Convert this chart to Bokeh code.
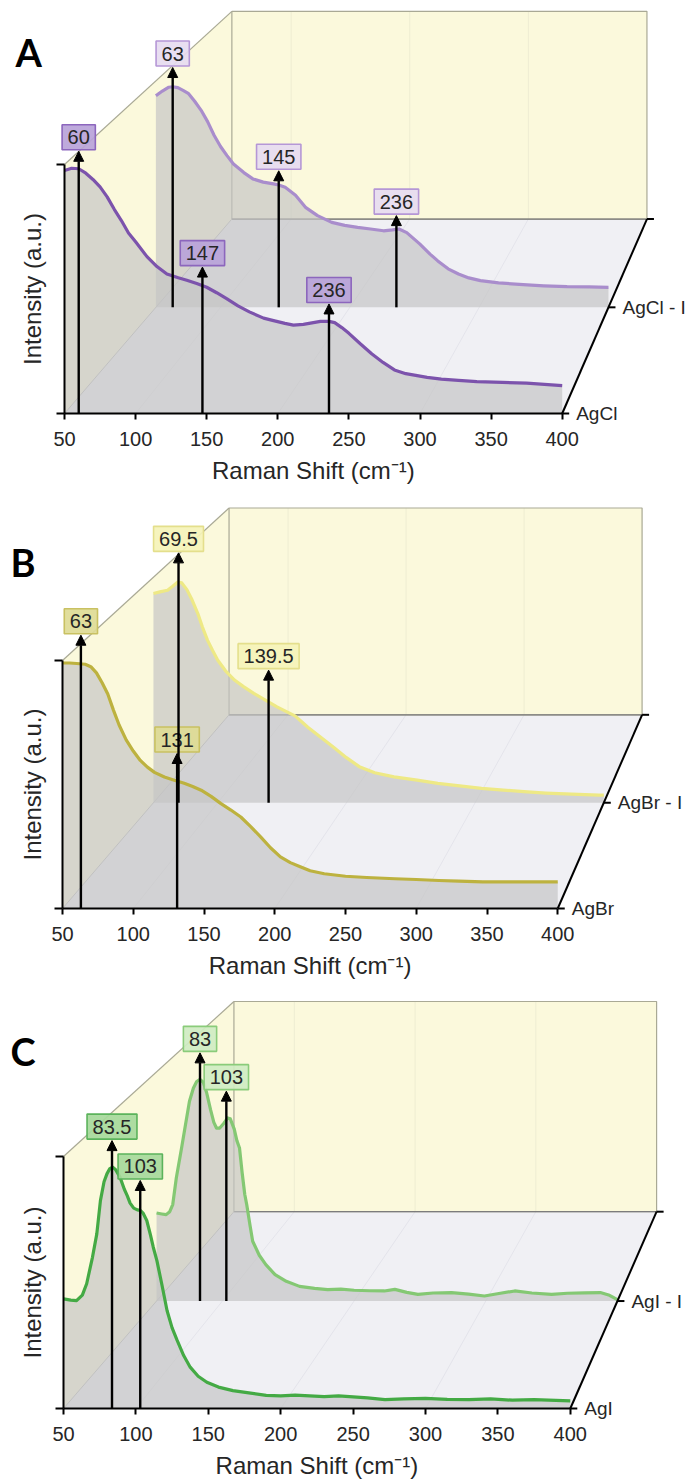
import numpy as np
from bokeh.plotting import figure
from bokeh.models import (Range1d, FixedTicker, CustomJSTickFormatter, Label,
                          Arrow, NormalHead, ColumnDataSource, LinearAxis)
from bokeh.layouts import column
from bokeh.embed import file_html
from bokeh.resources import INLINE
from bokeh.core.properties import value

# ---------------- spectra (normalised intensity) ----------------
agcl_x = [50, 55, 60, 65, 70, 75, 80, 85, 90, 95, 100, 108, 115, 122, 130, 136, 143, 150,
          157, 164, 172, 180, 190, 197, 205, 211, 218, 225, 230, 236, 240, 245, 250, 258,
          266, 274, 282, 290, 297, 305, 315, 327, 340, 358, 375, 390, 400]
agcl_y = [0.976, 0.985, 0.983, 0.965, 0.94, 0.91, 0.87, 0.82, 0.775, 0.725, 0.69, 0.63,
          0.59, 0.56, 0.545, 0.535, 0.522, 0.507, 0.485, 0.461, 0.432, 0.408, 0.383, 0.373,
          0.362, 0.355, 0.358, 0.365, 0.37, 0.37, 0.365, 0.345, 0.322, 0.28, 0.24, 0.205,
          0.175, 0.16, 0.153, 0.145, 0.138, 0.133, 0.128, 0.125, 0.122, 0.116, 0.112]

agcl_i_x = [50, 55, 60, 63, 67, 71, 75, 80, 85, 90, 95, 100, 105, 110, 118, 125, 133, 141,
            145, 150, 158, 166, 175, 186, 196, 206, 216, 226, 233, 238, 244, 254, 262, 268,
            276, 284, 292, 301, 315, 334, 350, 368, 385, 400]
agcl_i_y = [0.934, 0.955, 0.972, 0.974, 0.97, 0.958, 0.945, 0.91, 0.87, 0.82, 0.76, 0.71,
            0.67, 0.633, 0.595, 0.567, 0.553, 0.545, 0.54, 0.53, 0.495, 0.44, 0.405, 0.375,
            0.362, 0.353, 0.346, 0.338, 0.342, 0.346, 0.33, 0.28, 0.235, 0.205, 0.17, 0.147,
            0.13, 0.118, 0.108, 0.1, 0.095, 0.091, 0.09, 0.088]

agbr_x = [50, 55, 60, 66, 70, 74, 78, 82, 86, 90, 95, 100, 105, 110, 115, 122, 129, 136,
          142, 148, 155, 162, 169, 176, 183, 190, 197, 204, 211, 218, 225, 235, 250, 265,
          285, 300, 316, 330, 347, 370, 385, 400]
agbr_y = [0.99, 0.99, 0.988, 0.985, 0.975, 0.95, 0.91, 0.865, 0.80, 0.74, 0.68, 0.635,
          0.597, 0.57, 0.549, 0.53, 0.517, 0.505, 0.492, 0.477, 0.452, 0.423, 0.397, 0.369,
          0.33, 0.289, 0.245, 0.208, 0.185, 0.168, 0.152, 0.14, 0.13, 0.125, 0.12, 0.117,
          0.113, 0.11, 0.107, 0.107, 0.107, 0.107]

agbr_i_x = [50, 55, 61, 65, 69, 72, 76, 80, 84.5, 88, 92, 96, 100, 106, 113, 120, 128, 137,
            146, 153, 160, 165, 170, 180, 190, 200, 210, 222, 237, 255, 271, 288, 305, 322,
            338, 355, 375, 396, 400]
agbr_i_y = [0.928, 0.935, 0.942, 0.96, 0.979, 0.975, 0.945, 0.9, 0.839, 0.78, 0.721, 0.675,
            0.632, 0.585, 0.544, 0.515, 0.485, 0.455, 0.425, 0.405, 0.385, 0.36, 0.335, 0.29,
            0.246, 0.2, 0.16, 0.133, 0.115, 0.1, 0.086, 0.075, 0.064, 0.056, 0.049, 0.043,
            0.038, 0.034, 0.034]

agi_x = [50, 55, 59, 63, 66, 70, 73, 75.5, 78, 80, 82, 84, 86, 89, 92, 94, 96, 98.5, 101,
         103, 105, 107.5, 110, 112, 114.5, 118, 121.5, 125, 128.5, 133, 137.5, 143, 149, 157,
         167, 178, 190, 200, 210, 220, 230, 240, 250, 260, 272, 285, 300, 315, 330, 345, 360,
         375, 390, 400]
agi_y = [0.435, 0.43, 0.428, 0.45, 0.495, 0.6, 0.693, 0.825, 0.9, 0.931, 0.952, 0.958, 0.948,
         0.918, 0.87, 0.845, 0.815, 0.795, 0.788, 0.786, 0.775, 0.746, 0.69, 0.64, 0.587,
         0.49, 0.389, 0.32, 0.27, 0.21, 0.164, 0.128, 0.104, 0.085, 0.071, 0.062, 0.052,
         0.05, 0.053, 0.05, 0.047, 0.05, 0.046, 0.042, 0.035, 0.038, 0.04, 0.036, 0.035,
         0.038, 0.033, 0.035, 0.032, 0.03]

agi_i_x = [50, 54, 57.3, 60, 62.3, 65, 69, 72, 75, 78, 80.5, 83, 85.5, 88, 91, 93.5, 95.5,
           98, 101, 104, 106, 109, 111, 113, 115, 117, 118.5, 121, 123, 128, 133, 140, 148.5,
           158.6, 170, 180, 190, 200, 212, 223, 231, 240, 248.5, 260, 274, 287, 299, 310,
           322, 335, 350, 362, 375, 387, 394, 400]
agi_i_y = [0.384, 0.38, 0.377, 0.39, 0.421, 0.537, 0.668, 0.77, 0.872, 0.93, 0.958, 0.967,
           0.955, 0.91, 0.835, 0.78, 0.755, 0.755, 0.775, 0.799, 0.795, 0.75, 0.7, 0.668,
           0.56, 0.465, 0.42, 0.33, 0.261, 0.2, 0.159, 0.115, 0.086, 0.064, 0.055, 0.05,
           0.052, 0.047, 0.045, 0.044, 0.051, 0.038, 0.029, 0.035, 0.037, 0.03, 0.022, 0.033,
           0.044, 0.035, 0.029, 0.034, 0.036, 0.037, 0.025, 0.006]

# peak positions (cm-1) and arrow-tip heights (normalised)
agcl_peaks, agcl_tips = [60, 147, 236], [1.053, 0.588, 0.44]
agcl_i_peaks, agcl_i_tips = [63, 145, 236], [1.059, 0.603, 0.405]
agbr_peaks, agbr_tips = [63, 131], [1.102, 0.625]
agbr_i_peaks, agbr_i_tips = [69.5, 139.5], [1.108, 0.588]
agi_peaks, agi_tips = [83.5, 103], [1.063, 0.905]
agi_i_peaks, agi_i_tips = [83, 103], [1.083, 0.916]

x_ticks = [50, 100, 150, 200, 250, 300, 350, 400]
wall_grid = [100, 200, 300]

# ---------------- pseudo-3D projection ----------------
X0, X1 = 50.0, 400.0
DX, DY, SHRINK = 117.7, 0.781, 0.166   # back-plane offset and shrink
T_BACK = 0.546                          # depth of the second spectrum
FONT = "Liberation Sans"
BOX_FS = 20


def proj(x, y, t):
    t = np.asarray(t, dtype=float)
    s = 1.0 - SHRINK * t
    px = X0 + DX * t + (np.asarray(x, dtype=float) - X0) * s
    py = DY * t + np.asarray(y, dtype=float) * s
    return np.broadcast_arrays(px, py)


def fmt_label(v):
    return ("%g" % v)


def label_width(txt, fs=BOX_FS):
    return sum(0.278 if c == "." else 0.556 for c in txt) * fs + 11


def make_panel(g):
    left, bottom, h, xs, ys = g["left"], g["bottom"], g["height"], g["xs"], g["ys"]
    # the frame fills the whole canvas; axes sit at fixed data locations
    p = figure(width=685, height=h, output_backend="svg", toolbar_location=None,
               x_range=Range1d(X0 - left / xs, X0 + (685 - left) / xs),
               y_range=Range1d(-(h - bottom) / ys, bottom / ys),
               x_axis_location=None, y_axis_location=None,
               min_border_left=0, min_border_right=0, min_border_top=0,
               min_border_bottom=0)
    p.outline_line_color = None
    p.grid.visible = False
    p.background_fill_color = "white"
    p.border_fill_color = "white"

    def pix(gx, gy):
        return X0 + (gx - left) / xs, (bottom - gy) / ys

    # floor
    fx, fy = proj([X0, X1, X1, X0], 0, [0, 0, 1, 1])
    p.patch(fx, fy, fill_color="#f0f0f4", line_color=None)
    # back wall
    bx, by = proj([X0, X1, X1, X0], [0, 0, 1, 1], 1)
    p.patch(bx, by, fill_color="#fbf9dc", line_color=None)
    # left wall
    lx, ly = proj([X0, X0, X0, X0], [0, 1, 1, 0], [0, 0, 1, 1])
    p.patch(lx, ly, fill_color="#fbf9dc", line_color=None)

    # faint grid on wall and floor
    gx0, gy0 = proj(wall_grid, 0, 1)
    gx1, gy1 = proj(wall_grid, 1, 1)
    p.segment(gx0, gy0, gx1, gy1, line_color="#eeedd2", line_width=1)
    hx0, hy0 = proj(wall_grid, 0, 0)
    p.segment(hx0, hy0, gx0, gy0, line_color="#e4e4eb", line_width=1)

    # box edges
    p.line(bx[[3, 0, 1, 2, 3]], by[[3, 0, 1, 2, 3]], line_color="#a9a995", line_width=1.2)
    p.line(bx[[0, 1]], by[[0, 1]], line_color="#7c7c7c", line_width=1.3)
    p.line(lx[[1, 2]], ly[[1, 2]], line_color="#a9a995", line_width=1.2)
    p.line(lx[[0, 3]], ly[[0, 3]], line_color="#b8b8b8", line_width=1)

    def draw_series(xv, yv, t, peaks, tips, line_color, box_fill, box_line):
        sx, sy = proj(xv, yv, t)
        ex, ey = proj([X1, X0], 0, t)
        p.patch(np.concatenate([sx, ex]), np.concatenate([sy, ey]),
                fill_color="#c4c4c4", fill_alpha=0.68, line_color=None)
        p.line(sx, sy, line_color=line_color, line_width=3.2, line_join="round")
        ax0, ay0 = proj(peaks, 0, t)
        ax1, ay1 = proj(peaks, tips, t)
        src = ColumnDataSource(dict(x0=ax0, y0=ay0, x1=ax1, y1=ay1))
        p.add_layout(Arrow(end=NormalHead(size=10, fill_color="black", line_color="black",
                                          line_width=1),
                           x_start="x0", y_start="y0", x_end="x1", y_end="y1",
                           line_color="black", line_width=2.4, source=src))
        txt = [fmt_label(v) for v in peaks]
        lsrc = ColumnDataSource(dict(x=ax1, y=ay1 + 14 / ys, t=txt,
                                     w=[label_width(s) for s in txt]))
        p.rect(x="x", y="y", width="w", height=25, width_units="screen",
               height_units="screen", fill_color=box_fill, fill_alpha=0.92,
               line_color=box_line, line_width=1.6, source=lsrc)
        p.text(x="x", y="y", text="t", text_align="center", text_baseline="middle",
               text_font=value(FONT), text_font_size="%dpx" % BOX_FS, text_color="#262626",
               source=lsrc)

    c = g["colors"]
    draw_series(g["back"][0], g["back"][1], T_BACK, g["back"][2], g["back"][3],
                c["back_line"], c["back_fill"], c["back_edge"])
    draw_series(g["front"][0], g["front"][1], 0.0, g["front"][2], g["front"][3],
                c["front_line"], c["front_fill"], c["front_edge"])

    # depth axis with sample names
    dx0, dy0 = proj(X1, 0, 0)
    dx1, dy1 = proj(X1, 0, 1)
    p.line([float(dx0), float(dx1)], [float(dy0), float(dy1)], line_color="black", line_width=2)
    tx, ty = proj(X1, 0, [0, T_BACK, 1])
    p.segment(tx, ty, tx + 7 / xs, ty, line_color="black", line_width=2)
    p.text(x=tx[:2], y=ty[:2], text=g["names"], x_offset=14, text_align="left",
           text_baseline="middle", text_font=value(FONT), text_font_size="19px",
           text_color="#262626")

    # axes
    xa = LinearAxis(fixed_location=0, bounds=(X0, X1), ticker=FixedTicker(ticks=x_ticks))
    xa.minor_tick_line_color = None
    xa.major_tick_in = 0
    xa.major_tick_out = 6
    xa.axis_line_width = 2
    xa.major_tick_line_width = 2
    xa.major_label_standoff = 12
    xa.major_label_text_font = FONT
    xa.major_label_text_font_size = "20px"
    xa.major_label_text_color = "#262626"
    p.add_layout(xa, "below")

    ya = LinearAxis(fixed_location=X0, bounds=(0, 1), ticker=FixedTicker(ticks=[0, 1]),
                    formatter=CustomJSTickFormatter(code="return ''"))
    ya.minor_tick_line_color = None
    ya.major_tick_in = 0
    ya.major_tick_out = 8
    ya.axis_line_width = 2
    ya.major_tick_line_width = 2
    p.add_layout(ya, "left")

    # titles and panel letter
    lxp, lyp = pix(g["letter_pos"][0], g["letter_pos"][1])
    p.add_layout(Label(x=lxp, y=lyp, text=g["letter"], text_font="Lato",
                       text_font_style="bold", text_font_size="38px", text_color="black",
                       text_align="center", text_baseline="middle"))
    ix, _ = pix(31.5, 0)
    p.add_layout(Label(x=ix, y=0.5, text="Intensity (a.u.)", angle=np.pi / 2,
                       text_font=FONT, text_font_size="24px", text_color="#262626",
                       text_align="center", text_baseline="middle"))
    _, ry = pix(0, bottom + 57)
    p.add_layout(Label(x=(X0 + X1) / 2, y=ry, text="Raman Shift (cm\u207b\u00b9)",
                       text_font=FONT, text_font_size="24px", text_color="#262626",
                       text_align="center", text_baseline="middle"))
    return p


panels = [
    dict(letter="A", letter_pos=(28.3, 51.7), height=495, left=64, bottom=413,
         xs=1.422, ys=249, names=["AgCl", "AgCl - I"],
         front=(agcl_x, agcl_y, agcl_peaks, agcl_tips),
         back=(agcl_i_x, agcl_i_y, agcl_i_peaks, agcl_i_tips),
         colors=dict(front_line="#7c53ac", back_line="#a98dcc",
                     front_fill="#b9a3d9", front_edge="#8c66bd",
                     back_fill="#e6dbf0", back_edge="#b597d6")),
    dict(letter="B", letter_pos=(22.5, 66.7), height=495, left=62, bottom=413,
         xs=1.415, ys=248, names=["AgBr", "AgBr - I"],
         front=(agbr_x, agbr_y, agbr_peaks, agbr_tips),
         back=(agbr_i_x, agbr_i_y, agbr_i_peaks, agbr_i_tips),
         colors=dict(front_line="#bdb23f", back_line="#eee985",
                     front_fill="#dedb95", front_edge="#c9c162",
                     back_fill="#f5f3b8", back_edge="#e4df8c")),
    dict(letter="C", letter_pos=(22.5, 60.0), height=493, left=63, bottom=418,
         xs=1.448, ys=252, names=["AgI", "AgI - I"],
         front=(agi_x, agi_y, agi_peaks, agi_tips),
         back=(agi_i_x, agi_i_y, agi_i_peaks, agi_i_tips),
         colors=dict(front_line="#44aa44", back_line="#84c873",
                     front_fill="#a6d99b", front_edge="#5bb35b",
                     back_fill="#cfebc2", back_edge="#8acc7a")),
]

layout = column(*[make_panel(g) for g in panels], spacing=0)
open("out.html", "w").write(file_html(layout, INLINE))
